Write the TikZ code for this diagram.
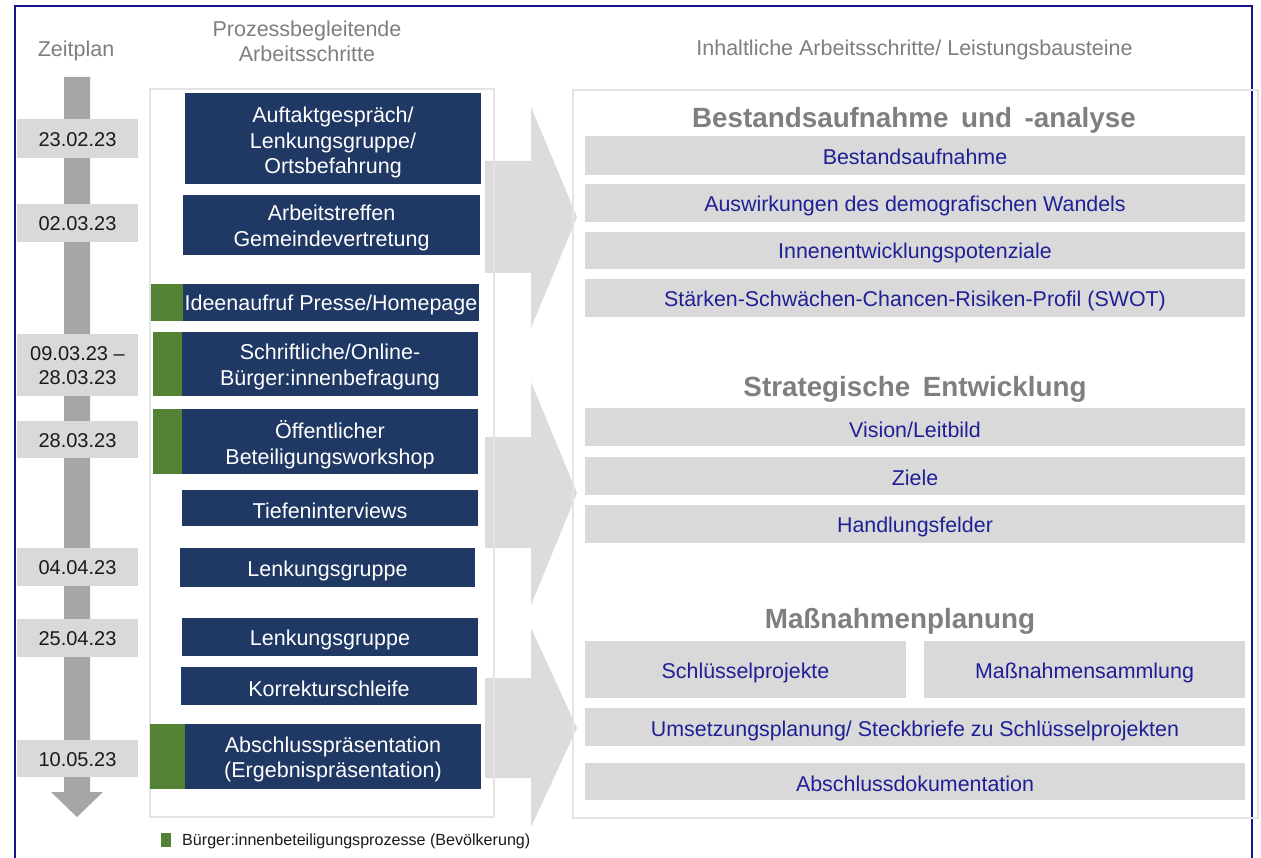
\documentclass[tikz,border=0pt]{standalone}
\usepackage{fontspec}
\setmainfont{Liberation Sans}
\definecolor{navyc}{HTML}{203864}
\definecolor{greenc}{HTML}{548235}
\definecolor{barc}{HTML}{D9D9D9}
\definecolor{bluetxt}{HTML}{1F1F96}
\definecolor{headgrey}{HTML}{7F7F7F}
\definecolor{tlgrey}{HTML}{A6A6A6}
\definecolor{bigarrow}{HTML}{DCDCDC}
\definecolor{framec}{HTML}{16168C}
\definecolor{panelc}{HTML}{E4E4E4}
\definecolor{datetxt}{HTML}{1A1A1A}
\newcommand\dn[2][2.5pt]{\raisebox{-#1}[\height][\depth]{#2}}
\tikzset{
  navybox/.style={fill=navyc, text=white, inner sep=0pt, align=center,
    font=\fontsize{21.5}{25.5}\selectfont, minimum width=296pt},
  greenbox/.style={fill=greenc, inner sep=0pt},
  datebox/.style={fill=barc, text=datetxt, inner sep=0pt, align=center,
    minimum width=121pt, font=\fontsize{20}{24}\selectfont},
  barbox/.style={fill=barc, text=bluetxt, inner sep=0pt, align=center,
    font=\fontsize{21.4}{25}\selectfont},
  headtxt/.style={text=headgrey, inner sep=0pt, align=center,
    font=\fontsize{21.5}{25}\selectfont},
  sectxt/.style={text=headgrey, inner sep=0pt, font=\bfseries\fontsize{27.8}{31}\selectfont},
  panel/.style={draw=panelc, line width=1.2pt, fill=none},
  bigarr/.style={fill=bigarrow, draw=none},
}
\begin{document}
\begin{tikzpicture}[x=1pt,y=-1pt]
\useasboundingbox (0,0) rectangle (1261,858);
\fill[white] (0,0) rectangle (1261,858);
% frame
\draw[framec, line width=2pt] (15,858) -- (15,6) -- (1252,6) -- (1252,858);

% headers
\node[headtxt] (hzeit) at (76,51) {Zeitplan};
\node[headtxt] (hproz) at (307,41.5) {Prozessbegleitende\\Arbeitsschritte};
\node[headtxt] (hinh) at (914.5,50) {Inhaltliche Arbeitsschritte/ Leistungsbausteine};

% big arrows
\fill[bigarr] (485,161) -- (531,161) -- (531,107) -- (577,217) -- (531,328) -- (531,273) -- (485,273) -- cycle;
\fill[bigarr] (485,437) -- (531,437) -- (531,382) -- (577,493) -- (531,605) -- (531,548) -- (485,548) -- cycle;
\fill[bigarr] (485,678) -- (531,678) -- (531,628) -- (577,728) -- (531,827) -- (531,778) -- (485,778) -- cycle;

% panels
\draw[panel] (150,89) rectangle (494,817);
\draw[panel] (573,90) rectangle (1258,818);

% timeline arrow
\fill[tlgrey] (64,77) -- (90,77) -- (90,792) -- (103,792) -- (77,817) -- (51,792) -- (64,792) -- cycle;

% dates
\node[datebox, minimum height=39pt] (d1) at (77.5,138.5) {\dn[1pt]{23.02.23}};
\node[datebox, minimum height=38pt] (d2) at (77.5,223) {\dn[1pt]{02.03.23}};
\node[datebox, minimum height=62pt] (d3) at (77.5,365) {\dn[1pt]{09.03.23 –}\\\dn[1pt]{28.03.23}};
\node[datebox, minimum height=37pt] (d4) at (77.5,439.5) {\dn[1pt]{28.03.23}};
\node[datebox, minimum height=38pt] (d5) at (77.5,567) {\dn[1pt]{04.04.23}};
\node[datebox, minimum height=38pt] (d6) at (77.5,638) {\dn[1pt]{25.04.23}};
\node[datebox, minimum height=37pt] (d7) at (77.5,758.5) {\dn[1pt]{10.05.23}};

% process steps
\node[navybox, minimum height=91pt] (p1) at (333,138.5) {\dn[4pt]{Auftaktgespräch/}\\\dn[4pt]{Lenkungsgruppe/}\\\dn[4pt]{Ortsbefahrung}};
\node[navybox, minimum width=297pt, minimum height=60pt] (p2) at (331.5,225) {\dn[3pt]{Arbeitstreffen}\\\dn[3pt]{Gemeindevertretung}};
\node[greenbox, minimum width=32pt, minimum height=37pt] (g3) at (167,302.5) {};
\node[navybox, minimum height=37pt] (p3) at (331,302.5) {\dn{Ideenaufruf Presse/Homepage}};
\node[greenbox, minimum width=29pt, minimum height=64pt] (g4) at (167.5,364) {};
\node[navybox, minimum height=64pt] (p4) at (330,364) {\dn[3pt]{Schriftliche/Online-}\\\dn[3pt]{Bürger:innenbefragung}};
\node[greenbox, minimum width=29pt, minimum height=65pt] (g5) at (167.5,441.5) {};
\node[navybox, minimum height=65pt] (p5) at (330,441.5) {\dn[3pt]{Öffentlicher}\\\dn[3pt]{Beteiligungsworkshop}};
\node[navybox, minimum height=36pt] (p6) at (330,508) {\dn{Tiefeninterviews}};
\node[navybox, minimum width=295pt, minimum height=39pt] (p7) at (327.5,567.5) {\dn[3.5pt]{Lenkungsgruppe}};
\node[navybox, minimum height=38pt] (p8) at (330,637) {\dn{Lenkungsgruppe}};
\node[navybox, minimum height=38pt] (p9) at (329,686) {\dn{Korrekturschleife}};
\node[greenbox, minimum width=35pt, minimum height=65pt] (g10) at (167.5,756.5) {};
\node[navybox, minimum height=65pt] (p10) at (333,756.5) {\dn[3pt]{Abschlusspräsentation}\\\dn[3pt]{(Ergebnispräsentation)}};

% right panel
\node[sectxt] (s1) at (914,120) {Bestandsaufnahme\hspace{0.45em}und\hspace{0.45em}-analyse};
\node[barbox, minimum width=660pt, minimum height=39pt] (b1) at (915,155.5) {\dn[1.5pt]{Bestandsaufnahme}};
\node[barbox, minimum width=660pt, minimum height=38pt] (b2) at (915,203) {\dn[3pt]{Auswirkungen des demografischen Wandels}};
\node[barbox, minimum width=660pt, minimum height=37pt] (b3) at (915,250.5) {\dn{Innenentwicklungspotenziale}};
\node[barbox, minimum width=660pt, minimum height=38pt] (b4) at (915,298) {\dn{Stärken-Schwächen-Chancen-Risiken-Profil (SWOT)}};

\node[sectxt] (s2) at (915,389) {Strategische\hspace{0.45em}Entwicklung};
\node[barbox, minimum width=660pt, minimum height=38pt] (b5) at (915,427) {\dn{Vision/Leitbild}};
\node[barbox, minimum width=660pt, minimum height=38pt] (b6) at (915,476) {\dn[2pt]{Ziele}};
\node[barbox, minimum width=660pt, minimum height=38pt] (b7) at (915,524) {\dn{Handlungsfelder}};

\node[sectxt] (s3) at (900,621.5) {Maßnahmenplanung};
\node[barbox, minimum width=321pt, minimum height=57pt] (b8) at (745.5,669.5) {\dn[3.5pt]{Schlüsselprojekte}};
\node[barbox, minimum width=321pt, minimum height=57pt] (b9) at (1084.5,669.5) {\dn[3.5pt]{Maßnahmensammlung}};
\node[barbox, minimum width=660pt, minimum height=38pt] (b10) at (915,727) {\dn[3.5pt]{Umsetzungsplanung/ Steckbriefe zu Schlüsselprojekten}};
\node[barbox, minimum width=660pt, minimum height=37pt] (b11) at (915,781.5) {\dn{Abschlussdokumentation}};

% legend
\node[greenbox, minimum width=10pt, minimum height=14pt] (lg) at (166,840) {};
\node[anchor=west, inner sep=0pt, text=datetxt, font=\fontsize{16.1}{19}\selectfont] (lt) at (182,841) {Bürger:innenbeteiligungsprozesse (Bevölkerung)};
\end{tikzpicture}
\end{document}
